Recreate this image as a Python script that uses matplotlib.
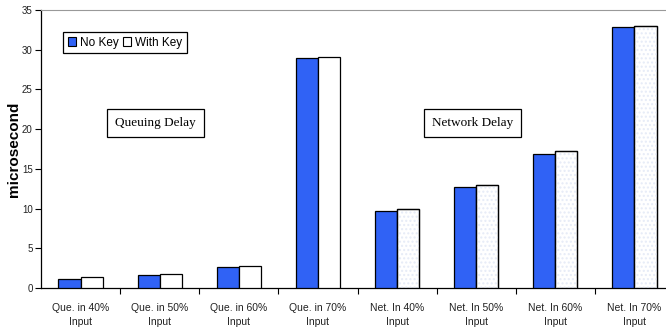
import matplotlib
matplotlib.use("Agg")
import matplotlib.pyplot as plt
import numpy as np
from matplotlib.patches import Patch

# average delay per load level, with and without key
categories = ["Que. in 40%\nInput", "Que. in 50%\nInput", "Que. in 60%\nInput",
              "Que. in 70%\nInput", "Net. In 40%\nInput", "Net. In 50%\nInput",
              "Net. In 60%\nInput", "Net. In 70%\nInput"]
no_key = [1.1, 1.6, 2.6, 29.0, 9.7, 12.7, 16.9, 32.8]
with_key = [1.4, 1.8, 2.8, 29.1, 10.0, 13.0, 17.2, 33.0]
n_queue = 4  # first four categories are queuing delay

BLUE = "#3062f5"
plt.rcParams["font.family"] = ["Liberation Sans", "DejaVu Sans"]

fig = plt.figure(figsize=(6.66, 3.30), dpi=100)
# axes runs a little past the right edge of the figure
ax = fig.add_axes([41 / 666, 42 / 330, 633 / 666, 278 / 330])

x = np.arange(len(categories)) + 0.5
w = 0.28
ax.bar(x - w / 2, no_key, w, color=BLUE, edgecolor="black", linewidth=0.9, zorder=3)
ax.bar(x + w / 2, with_key, w, color="white", edgecolor="black", linewidth=0.9, zorder=3)
# faint dotted fill on the network "with key" bars
ax.bar(x[n_queue:] + w / 2, with_key[n_queue:], w, color="none", edgecolor="#e6ebf7",
       hatch="....", linewidth=0, zorder=3.5)
ax.bar(x[n_queue:] + w / 2, with_key[n_queue:], w, color="none", edgecolor="black",
       linewidth=0.9, zorder=4)

ax.set_xlim(0, len(categories))
ax.set_ylim(0, 35)
ax.set_yticks(np.arange(0, 36, 5))
ax.set_xticks(x)
ax.set_xticklabels(categories, fontsize=7.5, color="#222222", linespacing=1.45)
ax.set_xticks(np.arange(1, len(categories)), minor=True)
ax.tick_params(axis="x", which="major", length=0, pad=11)
ax.tick_params(axis="x", which="minor", length=4, width=0.8, direction="out")
ax.tick_params(axis="y", length=4, width=0.8, labelsize=7, labelcolor="#222222", pad=2)

ax.spines["right"].set_visible(False)
ax.spines["top"].set_color("#999999")
ax.spines["left"].set_linewidth(0.9)
ax.spines["bottom"].set_linewidth(0.9)

ax.set_ylabel("microsecond", fontsize=11, fontweight="bold", labelpad=1)

handles = [Patch(facecolor=BLUE, edgecolor="black", linewidth=0.8),
           Patch(facecolor="white", edgecolor="black", linewidth=0.8)]
leg = ax.legend(handles, ["No Key", "With Key"], ncol=2, fontsize=8.5,
                loc="upper left", bbox_to_anchor=(22 / 633, 1 - 22 / 278),
                fancybox=False, framealpha=1, edgecolor="black",
                handlelength=0.7, handleheight=0.7, handletextpad=0.3,
                columnspacing=0.4, borderpad=0.4, borderaxespad=0)
leg.get_frame().set_linewidth(0.9)

box = dict(boxstyle="square,pad=0.6", facecolor="white", edgecolor="black", linewidth=0.9)
ax.text(1.45, 20.8, "Queuing Delay", family="Liberation Serif", fontsize=9.5,
        ha="center", va="center", bbox=box)
ax.text(5.45, 20.8, "Network Delay", family="Liberation Serif", fontsize=9.5,
        ha="center", va="center", bbox=box)

fig.savefig("out.png", dpi=100)
